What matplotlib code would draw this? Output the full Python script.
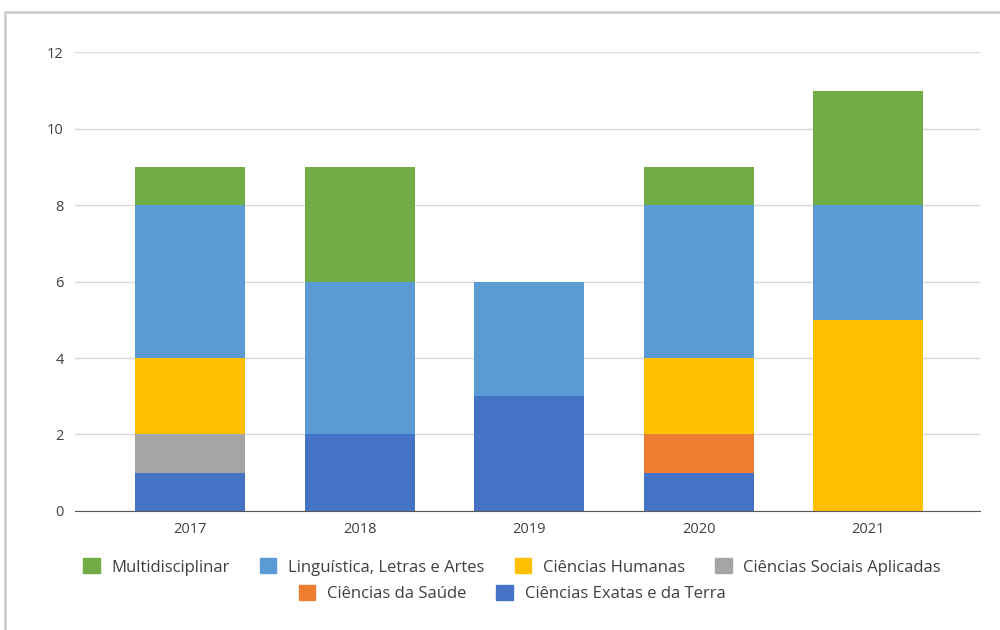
import matplotlib.pyplot as plt
from matplotlib.patches import Rectangle, Patch
import numpy as np

plt.rcParams['font.family'] = ['Open Sans', 'DejaVu Sans']

# Dados
anos = ["2017", "2018", "2019", "2020", "2021"]
exatas = [1, 2, 3, 1, 0]
saude = [0, 0, 0, 1, 0]
sociais = [1, 0, 0, 0, 0]
humanas = [2, 0, 0, 2, 5]
linguistica = [4, 4, 3, 4, 3]
multi = [1, 3, 0, 1, 3]

series = [
    ("Ciências Exatas e da Terra", exatas, "#4472C4"),
    ("Ciências da Saúde", saude, "#ED7D31"),
    ("Ciências Sociais Aplicadas", sociais, "#A5A5A5"),
    ("Ciências Humanas", humanas, "#FFC000"),
    ("Linguística, Letras e Artes", linguistica, "#5B9BD5"),
    ("Multidisciplinar", multi, "#70AD47"),
]

fig = plt.figure(figsize=(10, 6.3), dpi=100)
ax = fig.add_axes([0.075, 0.189, 0.905, 0.728])

x = np.arange(len(anos))
base = np.zeros(len(anos))
for nome, vals, cor in series:
    ax.bar(x, vals, bottom=base, width=0.65, color=cor, zorder=3)
    base += np.array(vals)

ax.set_ylim(0, 12)
ax.set_yticks(range(0, 13, 2))
ax.set_xlim(-0.68, 4.66)
ax.set_xticks(x)
ax.set_xticklabels(anos)
ax.grid(axis='y', color='#D9D9D9', linewidth=1, zorder=0)
for s in ['top', 'right', 'left']:
    ax.spines[s].set_visible(False)
ax.spines['bottom'].set_color('#595959')
ax.spines['bottom'].set_zorder(4)
ax.tick_params(length=0, labelsize=10.5, colors='#404040', pad=8)

# Legenda em duas linhas centradas
handles = {nome: Patch(color=cor) for nome, vals, cor in series}
linha1 = ["Multidisciplinar", "Linguística, Letras e Artes", "Ciências Humanas", "Ciências Sociais Aplicadas"]
linha2 = ["Ciências da Saúde", "Ciências Exatas e da Terra"]
kw = dict(frameon=False, fontsize=12, handlelength=1.0, handleheight=1.0,
          handletextpad=0.7, columnspacing=1.8, labelcolor='#404040')
fig.legend([handles[n] for n in linha1], linha1, ncol=4, loc='center',
           bbox_to_anchor=(0.512, 0.1), **kw)
fig.legend([handles[n] for n in linha2], linha2, ncol=2, loc='center',
           bbox_to_anchor=(0.512, 0.058), **kw)

# Moldura do gráfico
fig.patches.append(Rectangle((0.005, -0.05), 1.1, 1.031, transform=fig.transFigure,
                             fill=False, edgecolor='#CFCFCF', linewidth=2))

plt.savefig("out.png")
